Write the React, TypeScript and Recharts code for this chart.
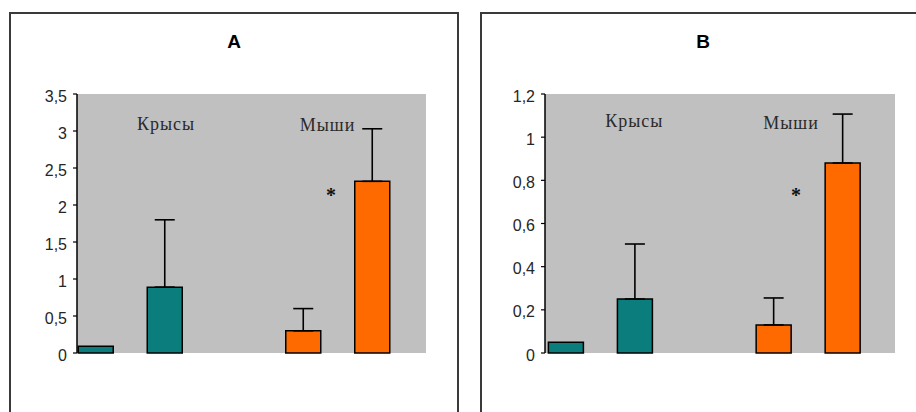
import React from "react";
import { BarChart, Bar, XAxis, YAxis, CartesianGrid, ErrorBar, Cell, ReferenceDot } from "recharts";

const categories = ["Крысы", "Мыши"];
const categoryColors = ["#0B7D7D", "#FF6A00"];

const controlA = [0.09, 0.3];
const treatedA = [0.89, 2.32];
const controlErrA: (number | null)[] = [null, 0.3];
const treatedErrA: (number | null)[] = [0.91, 0.71];
const ticksA = [0, 0.5, 1, 1.5, 2, 2.5, 3, 3.5];

const controlB = [0.05, 0.13];
const treatedB = [0.25, 0.88];
const controlErrB: (number | null)[] = [null, 0.125];
const treatedErrB: (number | null)[] = [0.255, 0.227];
const ticksB = [0, 0.2, 0.4, 0.6, 0.8, 1, 1.2];

const buildRows = (
  control: number[],
  treated: number[],
  cErr: (number | null)[],
  tErr: (number | null)[]
) =>
  categories.map((name, i) => ({
    name,
    control: control[i],
    treated: treated[i],
    controlErr: cErr[i] == null ? null : [0, cErr[i]],
    treatedErr: tErr[i] == null ? null : [0, tErr[i]],
  }));

const FloatText = (props: any) => {
  const { viewBox, text, dx = 0, dy = 0, fontSize = 18 } = props;
  if (!viewBox) return null;
  const x = viewBox.x + (viewBox.width || 0) / 2 + dx;
  const y = viewBox.y + (viewBox.height || 0) / 2 + dy;
  return (
    <text
      x={x}
      y={y}
      textAnchor="middle"
      dominantBaseline="central"
      fontFamily="'Liberation Serif', 'Times New Roman', serif"
      fontSize={fontSize}
      fill="#2a2a2a"
      letterSpacing={1}
    >
      {text}
    </text>
  );
};

const Star = (props: any) => {
  const { viewBox, dx = 0 } = props;
  if (!viewBox) return null;
  const x = viewBox.x + (viewBox.width || 0) / 2 + dx;
  const y = viewBox.y + (viewBox.height || 0) / 2;
  return (
    <text
      x={x}
      y={y + 9}
      textAnchor="middle"
      fontFamily="'Liberation Serif', 'Times New Roman', serif"
      fontSize={20}
      fontWeight="bold"
      fill="#111"
    >
      *
    </text>
  );
};

type PanelProps = {
  left: number;
  margin: { top: number; right: number; bottom: number; left: number };
  padding: { left: number; right: number };
  rows: any[];
  domain: [number, number];
  ticks: number[];
  labelA: { y: number; dx: number };
  labelB: { y: number; dx: number };
  star: { y: number; dx: number };
};

const TickLabel = (props: any) => {
  const { x, y, payload } = props;
  return (
    <text
      x={x}
      y={y + 2}
      textAnchor="end"
      dominantBaseline="central"
      fill="#262626"
      fontSize={16}
      fontFamily="'Liberation Sans', Arial, sans-serif"
    >
      {String(payload.value).replace(".", ",")}
    </text>
  );
};

const Panel = (p: PanelProps) => (
  <div style={{ position: "absolute", left: p.left, top: 0 }}>
    <BarChart width={460} height={412} data={p.rows} margin={p.margin} barSize={35} barGap={34}>
      <CartesianGrid fill="#C0C0C0" stroke="none" horizontal={false} vertical={false} />
      <XAxis dataKey="name" hide padding={p.padding} />
      <YAxis
        width={60}
        domain={p.domain}
        ticks={p.ticks}
        interval={0}
        axisLine={{ stroke: "#000", strokeWidth: 1.5 }}
        tickLine={{ stroke: "#000", strokeWidth: 1.2 }}
        tickSize={4}
        tickMargin={6}
        tick={<TickLabel />}
      />
      <Bar dataKey="control" isAnimationActive={false} stroke="#000" strokeWidth={1.5}>
        {p.rows.map((r, i) => (
          <Cell key={r.name} fill={categoryColors[i]} />
        ))}
        <ErrorBar dataKey="controlErr" width={10} stroke="#000" strokeWidth={1.6} direction="y" />
      </Bar>
      <Bar dataKey="treated" isAnimationActive={false} stroke="#000" strokeWidth={1.5}>
        {p.rows.map((r, i) => (
          <Cell key={r.name} fill={categoryColors[i]} />
        ))}
        <ErrorBar dataKey="treatedErr" width={10} stroke="#000" strokeWidth={1.6} direction="y" />
      </Bar>
      <ReferenceDot
        x={categories[0]}
        y={p.labelA.y}
        r={0}
        fill="none"
        stroke="none"
        ifOverflow="visible"
        label={<FloatText text={categories[0]} dx={p.labelA.dx} />}
      />
      <ReferenceDot
        x={categories[1]}
        y={p.labelB.y}
        r={0}
        fill="none"
        stroke="none"
        ifOverflow="visible"
        label={<FloatText text={categories[1]} dx={p.labelB.dx} />}
      />
      <ReferenceDot
        x={categories[1]}
        y={p.star.y}
        r={0}
        fill="none"
        stroke="none"
        ifOverflow="visible"
        label={<Star dx={p.star.dx} />}
      />
    </BarChart>
  </div>
);

const titleStyle: React.CSSProperties = {
  position: "absolute",
  top: 30,
  width: 40,
  textAlign: "center",
  fontFamily: "'Liberation Sans', Arial, sans-serif",
  fontWeight: "bold",
  fontSize: 19,
  lineHeight: "24px",
  color: "#000",
};

export default function App() {
  const rowsA = buildRows(controlA, treatedA, controlErrA, treatedErrA);
  const rowsB = buildRows(controlB, treatedB, controlErrB, treatedErrB);
  return (
    <div
      style={{
        position: "absolute",
        left: 0,
        top: 0,
        width: 916,
        height: 412,
        background: "#fff",
        overflow: "hidden",
      }}
    >
      <div
        style={{
          position: "absolute",
          left: 9,
          top: 12,
          width: 446,
          height: 420,
          border: "2px solid #3a3a3a",
        }}
      />
      <div
        style={{
          position: "absolute",
          left: 480,
          top: 12,
          width: 460,
          height: 420,
          border: "2px solid #3a3a3a",
        }}
      />
      <Panel
        left={0}
        margin={{ top: 94, right: 34, bottom: 59, left: 17 }}
        padding={{ left: -50.75, right: -15.25 }}
        rows={rowsA}
        domain={[0, 3.5]}
        ticks={ticksA}
        labelA={{ y: 3.09, dx: 36 }}
        labelB={{ y: 3.08, dx: -10 }}
        star={{ y: 2.16, dx: -6.5 }}
      />
      <Panel
        left={456}
        margin={{ top: 94, right: 21, bottom: 59, left: 29 }}
        padding={{ left: -48.6, right: -16.9 }}
        rows={rowsB}
        domain={[0, 1.2]}
        ticks={ticksB}
        labelA={{ y: 1.075, dx: 34 }}
        labelB={{ y: 1.066, dx: -17 }}
        star={{ y: 0.741, dx: -12 }}
      />
      <div style={{ ...titleStyle, left: 214 }}>A</div>
      <div style={{ ...titleStyle, left: 683 }}>B</div>
    </div>
  );
}
